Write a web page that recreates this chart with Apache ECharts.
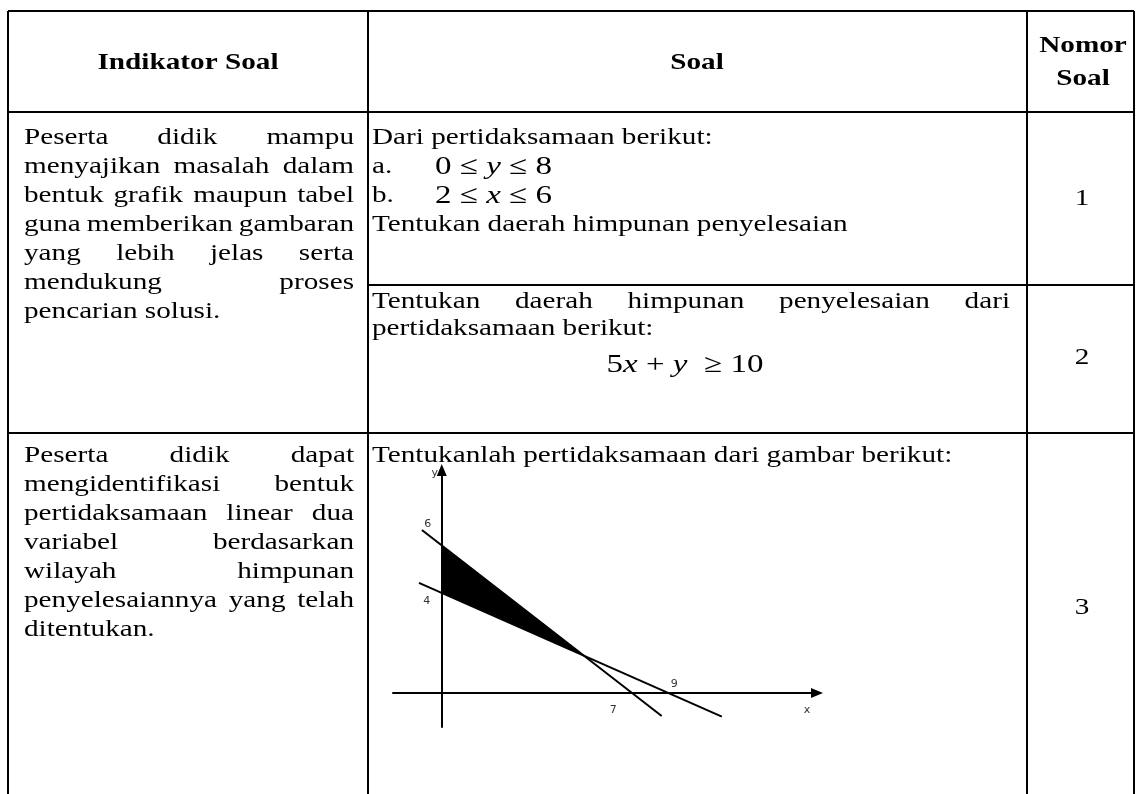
<!DOCTYPE html>
<html>
<head>
<meta charset="utf-8">
<title>Indikator Soal</title>
<script src="https://cdn.jsdelivr.net/npm/echarts@6/dist/echarts.min.js"></script>
<style>
    html, body { margin: 0; padding: 0; background: #fff; }
    #main { width: 1137px; height: 794px; }
</style>
</head>
<body>
<div id="main"></div>
<script>
// teks tabel
var headers = ['Indikator Soal', 'Soal', 'Nomor', 'Soal'];
var indikator1 = ['Peserta didik mampu', 'menyajikan masalah dalam', 'bentuk grafik maupun tabel',
    'guna memberikan gambaran', 'yang lebih jelas serta', 'mendukung proses', 'pencarian solusi.'];
var indikator2 = ['Peserta didik dapat', 'mengidentifikasi bentuk', 'pertidaksamaan linear dua',
    'variabel berdasarkan', 'wilayah himpunan', 'penyelesaiannya yang telah', 'ditentukan.'];
var soal1 = ['Dari pertidaksamaan berikut:', 'a.', 'b.', 'Tentukan daerah himpunan penyelesaian'];
var soal1Math = ['0 ≤ _y_ ≤ 8', '2 ≤ _x_ ≤ 6'];
var soal2 = ['Tentukan daerah himpunan penyelesaian dari', 'pertidaksamaan berikut:'];
var soal2Math = '5_x_ + _y_  ≥ 10';
var soal3 = 'Tentukanlah pertidaksamaan dari gambar berikut:';
var nomor = ['1', '2', '3'];

// grafik soal 3
var steepLine = [[-0.75, 6.63], [8.3, -0.93]];
var flatLine = [[-0.86, 4.48], [10.57, -0.96]];
var shadedArea = [[0, 6.0], [5.38, 1.51], [0, 4.07]];
var yTicks = [6, 4];
var xTicks = [7, 9];

window.onload = function () {
    var SX = 1.27;
    var BODY = '23px "Liberation Serif"';
    var BOLD = 'bold 23px "Liberation Serif"';
    var MATH = '26px "Liberation Serif"';
    var MATH_I = 'italic 26px "Liberation Serif"';
    var ctx = document.createElement('canvas').getContext('2d');

    function textW(str, font) {
        ctx.font = font;
        return ctx.measureText(str).width * SX;
    }

    function txt(str, x, y, font, align) {
        return {
            type: 'text', x: x, y: y, scaleX: SX, silent: true,
            style: {
                text: str, font: font, fill: '#000',
                align: align || 'left', textAlign: align || 'left',
                verticalAlign: 'middle', textVerticalAlign: 'middle'
            }
        };
    }

    // satu baris, rata kiri-kanan kalau justify
    function line(str, x0, x1, y, justify) {
        var words = str.split(' ');
        var total = 0;
        var els = [];
        words.forEach(function (w) { total += textW(w, BODY); });
        var gap = textW(' ', BODY);
        if (justify && words.length > 1) {
            gap = (x1 - x0 - total) / (words.length - 1);
        }
        var x = x0;
        words.forEach(function (w) {
            els.push(txt(w, x, y, BODY));
            x += textW(w, BODY) + gap;
        });
        return els;
    }

    function paragraph(lines, x0, x1, y0, step) {
        var els = [];
        for (var i = 0; i < lines.length; i++) {
            els = els.concat(line(lines[i], x0, x1, y0 + i * step, i < lines.length - 1));
        }
        return els;
    }

    // rumus: bagian di antara _ ditulis miring
    function math(str, x, y, center) {
        var parts = str.split('_');
        var w = 0;
        parts.forEach(function (p, i) { w += textW(p, i % 2 ? MATH_I : MATH); });
        var cx = center ? x - w / 2 : x;
        var els = [];
        parts.forEach(function (p, i) {
            var f = i % 2 ? MATH_I : MATH;
            els.push(txt(p, cx, y, f));
            cx += textW(p, f);
        });
        return els;
    }

    function rule(x1, y1, x2, y2) {
        return {
            type: 'line', silent: true,
            shape: { x1: x1, y1: y1, x2: x2, y2: y2 },
            style: { stroke: '#000', lineWidth: 2 }
        };
    }

    var L = 8, C1 = 368, C2 = 1027, R = 1134;
    var TOP = 11, HEAD = 112, SPLIT = 285, ROW2 = 433, BOTTOM = 794;
    var STEP = 29;
    var Y1 = 138, Y3 = 456;

    var table = [
        rule(L, TOP, R, TOP),
        rule(L, HEAD, R, HEAD),
        rule(C1, SPLIT, R, SPLIT),
        rule(L, ROW2, R, ROW2),
        rule(L, TOP, L, BOTTOM),
        rule(C1, TOP, C1, BOTTOM),
        rule(C2, TOP, C2, BOTTOM),
        rule(R, TOP, R, BOTTOM)
    ];

    table.push(txt(headers[0], 188, 63, BOLD, 'center'));
    table.push(txt(headers[1], 697, 63, BOLD, 'center'));
    table.push(txt(headers[2], 1083, 46, BOLD, 'center'));
    table.push(txt(headers[3], 1083, 79, BOLD, 'center'));

    table = table.concat(paragraph(indikator1, 24, 354, Y1, STEP));
    table = table.concat(paragraph(indikator2, 24, 354, Y3, STEP));

    table = table.concat(line(soal1[0], 372, 1010, Y1, false));
    table = table.concat(line(soal1[1], 372, 1010, Y1 + STEP, false));
    table = table.concat(math(soal1Math[0], 435, Y1 + STEP, false));
    table = table.concat(line(soal1[2], 372, 1010, Y1 + 2 * STEP, false));
    table = table.concat(math(soal1Math[1], 435, Y1 + 2 * STEP, false));
    table = table.concat(line(soal1[3], 372, 1010, Y1 + 3 * STEP, false));

    table = table.concat(line(soal2[0], 372, 1010, 302, true));
    table = table.concat(line(soal2[1], 372, 1010, 329, false));
    table = table.concat(math(soal2Math, 685, 365, true));

    table = table.concat(line(soal3, 372, 1010, Y3, false));

    table.push(txt(nomor[0], 1082, 199, BODY, 'center'));
    table.push(txt(nomor[1], 1082, 358, BODY, 'center'));
    table.push(txt(nomor[2], 1082, 608, BODY, 'center'));

    var chart = echarts.init(document.getElementById('main'));

    var axisBase = {
        type: 'value',
        axisLine: {
            onZero: true,
            symbol: ['none', 'triangle'],
            symbolSize: [10, 12],
            lineStyle: { color: '#000', width: 2 }
        },
        axisTick: { show: false },
        axisLabel: { show: false },
        splitLine: { show: false }
    };

    var option = {
        animation: false,
        grid: { left: 393, top: 470, width: 424, height: 257 },
        xAxis: echarts.util.merge({ min: -1.84, max: 14.16 }, axisBase, true),
        yAxis: echarts.util.merge({ min: -1.38, max: 9.07 }, axisBase, true),
        series: [
            {
                type: 'custom',
                silent: true,
                data: [0],
                renderItem: function (params, api) {
                    var pts = shadedArea.map(function (p) { return api.coord(p); });
                    return { type: 'polygon', shape: { points: pts }, style: { fill: '#000' } };
                }
            },
            {
                type: 'line', data: steepLine, symbol: 'none', silent: true,
                lineStyle: { color: '#000', width: 2 }
            },
            {
                type: 'line', data: flatLine, symbol: 'none', silent: true,
                lineStyle: { color: '#000', width: 2 }
            }
        ]
    };
    chart.setOption(option);

    // label angka pada sumbu
    var LABEL = '11px "DejaVu Sans"';
    function tick(str, pos, dx, dy) {
        var p = chart.convertToPixel({ gridIndex: 0 }, pos);
        return {
            type: 'text', x: p[0] + dx, y: p[1] + dy, silent: true,
            style: {
                text: String(str), font: LABEL, fill: '#333',
                align: 'center', textAlign: 'center',
                verticalAlign: 'middle', textVerticalAlign: 'middle'
            }
        };
    }
    var labels = [
        tick(yTicks[0], [0, yTicks[0]], -14, -21),
        tick(yTicks[1], [0, yTicks[1]], -15, 6),
        tick(xTicks[0], [xTicks[0], 0], -14, 17),
        tick(xTicks[1], [xTicks[1], 0], -6, -9),
        tick('x', [14.16, 0], -10, 17),
        tick('y', [0, 9.07], -7, 3)
    ];

    chart.setOption({ graphic: table.concat(labels) });
};
</script>
</body>
</html>
